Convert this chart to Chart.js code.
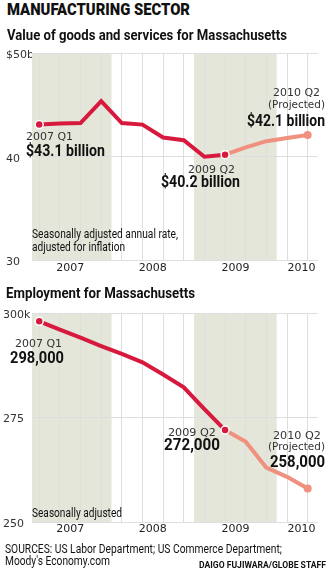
<!DOCTYPE html>
<html>
<head>
<meta charset="utf-8">
<script src="https://cdn.jsdelivr.net/npm/chart.js@4.4.1/dist/chart.umd.min.js"></script>
<style>
  html, body { margin: 0; padding: 0; background: #fff; }
  body { width: 329px; height: 571px; position: relative; overflow: hidden; }
  .t { position: absolute; white-space: nowrap; transform-origin: 0 0; color: #111; }
  .box { position: absolute; left: 0; width: 329px; }
</style>
</head>
<body>
<div class="box" style="top:40px;height:244px"><canvas id="valueChart"></canvas></div>
<div class="box" style="top:300px;height:244px"><canvas id="jobsChart"></canvas></div>
<script>
// Quarters from 2007 Q1 to 2010 Q2 (index 0..13)
const quarters = ['2007 Q1','2007 Q2','2007 Q3','2007 Q4','2008 Q1','2008 Q2','2008 Q3','2008 Q4',
                  '2009 Q1','2009 Q2','2009 Q3','2009 Q4','2010 Q1','2010 Q2'];
const years = ['2007','2008','2009','2010'];
const shadedYears = ['2007','2009'];

// Manufacturing output, $ billions (actual through 2009 Q2, then projected)
const valueActual = [43.1, 43.2, 43.25, 45.35, 43.25, 43.1, 41.85, 41.6, 40.0, 40.2];
const valueProjected = [40.2, 40.9, 41.5, 41.8, 42.1];
const valueTicks = [30, 40, 50];

// Manufacturing employment, thousands
const jobsActual = [298, 296.0, 294.1, 292.1, 290.2, 288.2, 285.3, 282.2, 277.0, 272];
const jobsProjected = [272, 269.2, 263.0, 260.8, 258];
const jobsTicks = [250, 275, 300];

const CRIMSON = '#d7193d';
const SALMON = '#f0907f';
const BAND = '#e4e6d9';
const GRID = '#dedede';
const TICK_FONT = { family: '"DejaVu Sans", sans-serif', size: 11 };
const COND = 'Roboto, "Liberation Sans", Arial, sans-serif';
const WIDE = '"DejaVu Sans", sans-serif';

const X_MIN = -0.35, X_MAX = 13.5;
const lastActual = valueActual.length - 1;

function toPoints(arr, start) { return arr.map((v, i) => ({ x: start + i, y: v })); }

// Alternate-year shading behind the grid
const bandPlugin = {
  id: 'bands',
  beforeDraw(chart) {
    const { ctx, chartArea: a, scales } = chart;
    ctx.save();
    ctx.beginPath(); ctx.rect(a.left, a.top, a.right - a.left, a.bottom - a.top); ctx.clip();
    ctx.fillStyle = BAND;
    shadedYears.forEach(y => {
      const start = years.indexOf(y) * 4 - 0.5;
      const x0 = scales.x.getPixelForValue(start);
      const x1 = scales.x.getPixelForValue(start + 4);
      ctx.fillRect(x0, a.top, x1 - x0, a.bottom - a.top);
    });
    ctx.restore();
  }
};

function makeChart(id, actual, projected, ticks, fmtTop, padLeft, yWidth, padBottom) {
  const yMin = ticks[0], yMax = ticks[ticks.length - 1];
  const radius = actual.map((_, i) => (i === 0 || i === actual.length - 1) ? 4 : 0);
  const pRadius = projected.map((_, i) => i === projected.length - 1 ? 4 : 0);
  return new Chart(document.getElementById(id), {
    type: 'line',
    data: {
      datasets: [
        { data: toPoints(actual, 0), borderColor: CRIMSON, borderWidth: 4, borderJoinStyle: 'miter',
          pointRadius: radius, pointBackgroundColor: CRIMSON, pointBorderColor: '#fff', pointBorderWidth: 1.5,
          order: 1, clip: false },
        { data: toPoints(projected, lastActual), borderColor: SALMON, borderWidth: 4, borderJoinStyle: 'round',
          pointRadius: pRadius, pointBackgroundColor: SALMON, pointBorderWidth: 0, order: 2, clip: false }
      ]
    },
    options: {
      responsive: true, maintainAspectRatio: false, animation: false,
      layout: { padding: { top: 13, right: 11, bottom: padBottom, left: padLeft } },
      plugins: { legend: { display: false }, tooltip: { enabled: false } },
      elements: { line: { tension: 0 } },
      scales: {
        x: {
          type: 'linear', min: X_MIN, max: X_MAX, position: 'bottom',
          afterBuildTicks: s => { s.ticks = quarters.map((_, i) => ({ value: i })); },
          afterFit: s => { s.height = 0; },
          grid: { color: GRID, lineWidth: 1, drawTicks: false },
          border: { display: false },
          ticks: { display: false }
        },
        years: {
          type: 'linear', min: X_MIN, max: X_MAX, position: 'bottom',
          afterBuildTicks: s => {
            s.ticks = years.map((y, i) => ({ value: Math.min(i * 4 + 1.5, X_MAX - 0.8) }));
          },
          afterFit: s => { s.height = 20; },
          grid: { display: false, drawTicks: false },
          border: { display: false },
          ticks: {
            font: TICK_FONT, color: '#222', padding: 1, maxRotation: 0, autoSkip: false,
            callback: (v, i) => years[i]
          }
        },
        y: {
          min: yMin, max: yMax,
          afterBuildTicks: s => { s.ticks = ticks.map(v => ({ value: v })); },
          afterFit: s => { s.width = yWidth; },
          grid: { color: GRID, lineWidth: 1, drawTicks: false },
          border: { display: false },
          ticks: {
            font: TICK_FONT, color: '#333', padding: 0, crossAlign: 'far', labelOffset: 2,
            callback: v => v === yMax ? fmtTop(v) : String(v)
          }
        }
      }
    },
    plugins: [bandPlugin]
  });
}

makeChart('valueChart', valueActual, valueProjected, valueTicks, v => '$' + v + 'b', 6, 26, 3.5);
makeChart('jobsChart', jobsActual, jobsProjected, jobsTicks, v => v + 'k', 3, 29, 2);

// Text layer
function put(text, x, base, size, weight, family, width, color) {
  const d = document.createElement('div');
  d.className = 't';
  d.textContent = text;
  d.style.font = weight + ' ' + size + 'px ' + family;
  d.style.lineHeight = '1';
  d.style.left = x + 'px';
  d.style.top = (base - 0.845 * size) + 'px';
  if (color) d.style.color = color;
  document.body.appendChild(d);
  if (width) {
    const w = d.getBoundingClientRect().width;
    d.style.transform = 'scaleX(' + (width / w) + ')';
  }
}
const billions = v => '$' + v.toFixed(1) + ' billion';
const jobs = v => Math.round(v * 1000).toLocaleString('en-US');
const lastQ = quarters.length - 1;

put('MANUFACTURING SECTOR', 7, 15.5, 16, 900, COND, 183);
put('Value of goods and services for Massachusetts', 7, 40.5, 15, 700, COND, 280);
put('Employment for Massachusetts', 6, 298.5, 15, 700, COND, 189);

put(quarters[0], 26, 140.7, 11, 400, WIDE, 47, '#333');
put(billions(valueActual[0]), 26, 157, 16.5, 700, COND, 79);
put(quarters[lastActual], 188, 173.3, 11, 400, WIDE, 47, '#333');
put(billions(valueActual[lastActual]), 161, 188.3, 16.5, 700, COND, 79);
put(quarters[lastQ], 273, 96.7, 11, 400, WIDE, 47, '#333');
put('(Projected)', 268, 108.5, 11, 400, WIDE, 57, '#333');
put(billions(valueProjected[valueProjected.length - 1]), 247, 126.7, 16.5, 700, COND, 78);
put('Seasonally adjusted annual rate,', 32, 238.3, 13, 400, COND, 146);
put('adjusted for inflation', 32, 250.5, 13, 400, COND, 93);

put(quarters[0], 15, 347.3, 11, 400, WIDE, 47, '#333');
put(jobs(jobsActual[0]), 10, 364, 16.5, 700, COND, 54);
put(quarters[lastActual], 168, 436, 11, 400, WIDE, 48, '#333');
put(jobs(jobsActual[lastActual]), 164, 451, 16.5, 700, COND, 56);
put(quarters[lastQ], 273, 439, 11, 400, WIDE, 48, '#333');
put('(Projected)', 268, 450.5, 11, 400, WIDE, 57, '#333');
put(jobs(jobsProjected[jobsProjected.length - 1]), 270, 468.3, 16.5, 700, COND, 55);
put('Seasonally adjusted', 32, 516.7, 13, 400, COND, 90);

put('SOURCES: US Labor Department; US Commerce Department;', 5, 552.7, 13, 400, COND, 277);
put("Moody's Economy.com", 5, 564.5, 13, 400, COND, 105);
put('DAIGO FUJIWARA/GLOBE STAFF', 199, 568.3, 8.5, 700, COND, 127);
</script>
</body>
</html>
